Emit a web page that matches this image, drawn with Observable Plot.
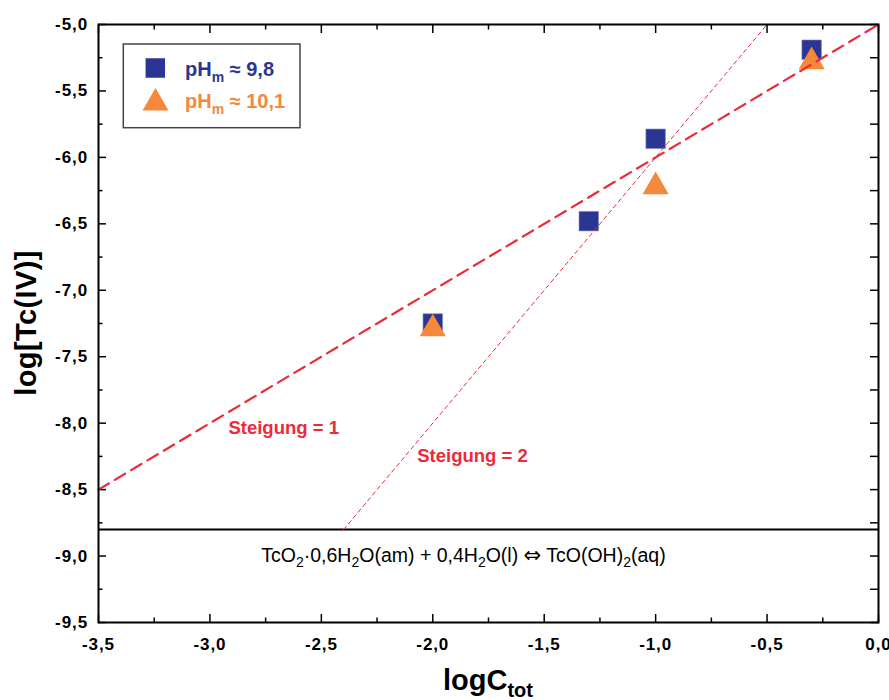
<!DOCTYPE html>
<html><head><meta charset="utf-8">
<script src="https://cdn.jsdelivr.net/npm/d3@7"></script>
<script src="https://cdn.jsdelivr.net/npm/@observablehq/plot@0.6"></script>
<style>
html,body{margin:0;padding:0;background:#fff;}
#chart{position:relative;width:889px;height:700px;}
</style></head><body><div id="chart"></div>
<script>
// ---- data ----
const majorX = [-3.5, -3.0, -2.5, -2.0, -1.5, -1.0, -0.5, 0.0];
const xTickLabels = ["-3,5", "-3,0", "-2,5", "-2,0", "-1,5", "-1,0", "-0,5", "0,0"];
const minorX = [-3.25, -2.75, -2.25, -1.75, -1.25, -0.75, -0.25];
const majorY = [-9.5, -9.0, -8.5, -8.0, -7.5, -7.0, -6.5, -6.0, -5.5, -5.0];
const yTickLabels = ["-9,5", "-9,0", "-8,5", "-8,0", "-7,5", "-7,0", "-6,5", "-6,0", "-5,5", "-5,0"];
const minorY = [-9.25, -8.75, -8.25, -7.75, -7.25, -6.75, -6.25, -5.75, -5.25];

const squareX = [-2.0, -1.3, -1.0, -0.3];   // pHm ≈ 9,8
const squareY = [-7.25, -6.48, -5.86, -5.19];
const triX = [-2.0, -1.0, -0.3];            // pHm ≈ 10,1
const triY = [-7.29, -6.22, -5.28];

const slope1X = [-3.5, 0.0];
const slope1Y = [-8.5, -5.0];
const slope2X = [-2.4, -0.5];
const slope2Y = [-8.8, -5.0];
const boundaryY = [-8.8];

const annotText = ["Steigung = 1", "Steigung = 2"];
const annotX = [-2.669, -1.822];
const annotY = [-8.04, -8.25];

const legendLabels = ["9,8", "10,1"];
const reactionX = -1.86;
const reactionY = -9.05;

// ---- colors ----
const navy = "#2b3593", orange = "#f5883a", red = "#ec2a3a";
const font = "'Liberation Sans', Arial, Helvetica, sans-serif";

const squares = squareX.map((x, i) => ({x, y: squareY[i]}));
const tris = triX.map((x, i) => ({x, y: triY[i]}));
const line1 = slope1X.map((x, i) => ({x, y: slope1Y[i]}));
const line2 = slope2X.map((x, i) => ({x, y: slope2Y[i]}));
const annots = annotText.map((t, i) => ({t, x: annotX[i], y: annotY[i]}));

const fx = d => xTickLabels[majorX.indexOf(d)];
const fy = d => yTickLabels[majorY.indexOf(d)];
const blank = () => "";

const chart = Plot.plot({
  width: 889, height: 700,
  marginLeft: 98, marginRight: 11, marginTop: 24, marginBottom: 78,
  x: {domain: [-3.5, 0], label: null},
  y: {domain: [-9.5, -5], label: null},
  style: {fontFamily: font, fontSize: "17px", fontWeight: "bold", color: "black", background: "white", overflow: "visible"},
  marks: [
    Plot.axisX(majorX, {anchor: "bottom", tickSize: -8, tickPadding: 23, tickFormat: fx, label: null, strokeWidth: 1.5}),
    Plot.axisX(minorX, {anchor: "bottom", tickSize: -4.5, tickFormat: blank, label: null, strokeWidth: 1.5}),
    Plot.axisX(majorX, {anchor: "top", tickSize: -8, tickFormat: blank, label: null, strokeWidth: 1.5}),
    Plot.axisX(minorX, {anchor: "top", tickSize: -4.5, tickFormat: blank, label: null, strokeWidth: 1.5}),
    Plot.axisY(majorY, {anchor: "left", tickSize: -8, tickPadding: 18.5, tickFormat: fy, label: null, strokeWidth: 1.5}),
    Plot.axisY(minorY, {anchor: "left", tickSize: -4.5, tickFormat: blank, label: null, strokeWidth: 1.5}),
    Plot.axisY(majorY, {anchor: "right", tickSize: -9, tickFormat: blank, label: null, strokeWidth: 1.5}),
    Plot.axisY(minorY, {anchor: "right", tickSize: -9, tickFormat: blank, label: null, strokeWidth: 1.5}),
    Plot.ruleY(boundaryY, {stroke: "black", strokeWidth: 2}),
    Plot.dot(squares, {x: "x", y: "y", symbol: "square", r: 11, fill: navy, stroke: "#7f86bd", strokeWidth: 0.6}),
    Plot.dot(tris, {x: "x", y: "y", symbol: "triangle", r: 9.7, fill: orange}),
    Plot.line(line1, {x: "x", y: "y", stroke: red, strokeWidth: 2.2, strokeDasharray: "12,7"}),
    Plot.line(line2, {x: "x", y: "y", stroke: red, strokeWidth: 1, strokeDasharray: "4,3.5"}),
    Plot.text(annots, {x: "x", y: "y", text: "t", fill: red, fontSize: 18.5, fontWeight: "bold"}),
    Plot.frame({stroke: "black", strokeWidth: 2})
  ]
});
document.getElementById("chart").appendChild(chart);

const svg = d3.select(chart);
svg.selectAll('g[aria-label="x-axis tick label"] text, g[aria-label="y-axis tick label"] text')
  .style("letter-spacing", "0.9px");
const sx = chart.scale("x").apply, sy = chart.scale("y").apply;

// reaction text
const rt = svg.append("text")
  .attr("x", sx(reactionX)).attr("y", sy(reactionY))
  .attr("text-anchor", "middle")
  .style("font-family", font).style("font-size", "19.5px").style("font-weight", "normal").attr("fill", "black");
const parts = [["TcO", 0], ["2", 1], ["·0,6H", 0], ["2", 1], ["O(am) + 0,4H", 0], ["2", 1], ["O(l) ", 0], ["⇔", 2], [" TcO(OH)", 0], ["2", 1], ["(aq)", 0]];
let shifted = false;
parts.forEach(([s, sub]) => {
  const t = rt.append("tspan").text(s);
  if (sub === 1) { t.attr("dy", 5).style("font-size", "14px"); shifted = true; }
  else if (shifted) { t.attr("dy", -5); shifted = false; }
  if (sub === 2) t.style("font-family", "'DejaVu Sans', sans-serif").style("font-size", "21px");
});

// x axis title
const xt = svg.append("text").attr("x", 488).attr("y", 690).attr("text-anchor", "middle")
  .style("font-family", font).style("font-size", "29px").style("font-weight", "bold").attr("fill", "black");
xt.append("tspan").text("logC");
xt.append("tspan").text("tot").attr("dy", 7).style("font-size", "20px");

// y axis title
svg.append("text").attr("transform", "translate(35.6,323) rotate(-90)").attr("text-anchor", "middle")
  .style("font-family", font).style("font-size", "29px").style("font-weight", "bold").style("letter-spacing", "0.4px")
  .attr("fill", "black").text("log[Tc(IV)]");

// legend
const lg = svg.append("g");
lg.append("rect").attr("x", 123.3).attr("y", 44).attr("width", 176.7).attr("height", 83.7)
  .attr("fill", "white").attr("stroke", "#444").attr("stroke-width", 1.5);
lg.append("path").attr("d", d3.symbol(d3.symbolSquare, 380)()).attr("transform", "translate(155.3,68)").attr("fill", navy);
lg.append("path").attr("d", d3.symbol(d3.symbolTriangle, 292)()).attr("transform", "translate(155.5,103)").attr("fill", orange);
[[legendLabels[0], navy, 76], [legendLabels[1], orange, 108.3]].forEach(([lab, col, y]) => {
  const t = lg.append("text").attr("x", 185).attr("y", y).attr("fill", col).attr("text-anchor", "start")
    .style("font-family", font).style("font-size", "20px").style("font-weight", "bold");
  t.append("tspan").text("pH");
  t.append("tspan").text("m").attr("dy", 6).style("font-size", "14px");
  t.append("tspan").text(" ≈ " + lab).attr("dy", -6);
});
</script></body></html>
